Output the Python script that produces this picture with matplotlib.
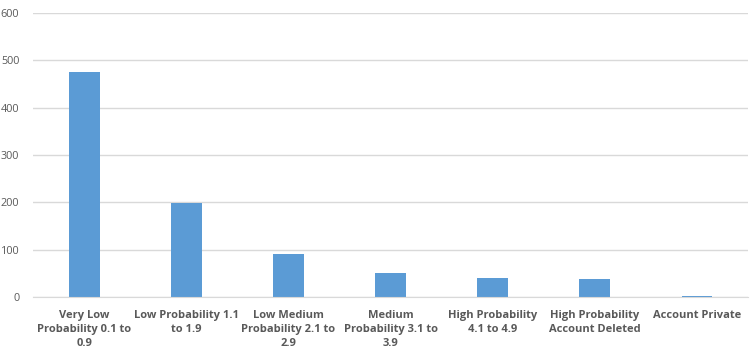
import matplotlib.pyplot as plt
import numpy as np

categories = ['Very Low\nProbability 0.1 to\n0.9', 'Low Probability 1.1\nto 1.9',
              'Low Medium\nProbability 2.1 to\n2.9', 'Medium\nProbability 3.1 to\n3.9',
              'High Probability\n4.1 to 4.9', 'High Probability\nAccount Deleted',
              'Account Private']
counts = [476, 199, 92, 52, 41, 38, 3]
yticks = [0, 100, 200, 300, 400, 500, 600]

plt.rcParams['font.family'] = ['Open Sans', 'DejaVu Sans']

fig = plt.figure(figsize=(7.54, 3.58), dpi=100)
ax = fig.add_axes([0.044, 0.170, 0.948, 0.794])

x = np.arange(len(categories))
ax.bar(x, counts, width=0.3, color='#5b9bd5', zorder=3)

ax.set_xlim(-0.5, len(categories) - 0.5)
ax.set_ylim(0, 600)
ax.set_yticks(yticks)
ax.set_xticks(x)
ax.set_xticklabels(categories, fontsize=8, fontweight='bold', color='#595959', linespacing=1.4)
ax.tick_params(axis='y', labelsize=7.8, labelcolor='#595959', length=0, pad=10)
ax.tick_params(axis='x', length=0, pad=9)

ax.grid(axis='y', color='#d9d9d9', linewidth=1, zorder=0)
for s in ['top', 'right', 'left']:
    ax.spines[s].set_visible(False)
ax.spines['bottom'].set_color('#d9d9d9')
ax.spines['bottom'].set_zorder(4)

fig.savefig('out.png', dpi=100)
